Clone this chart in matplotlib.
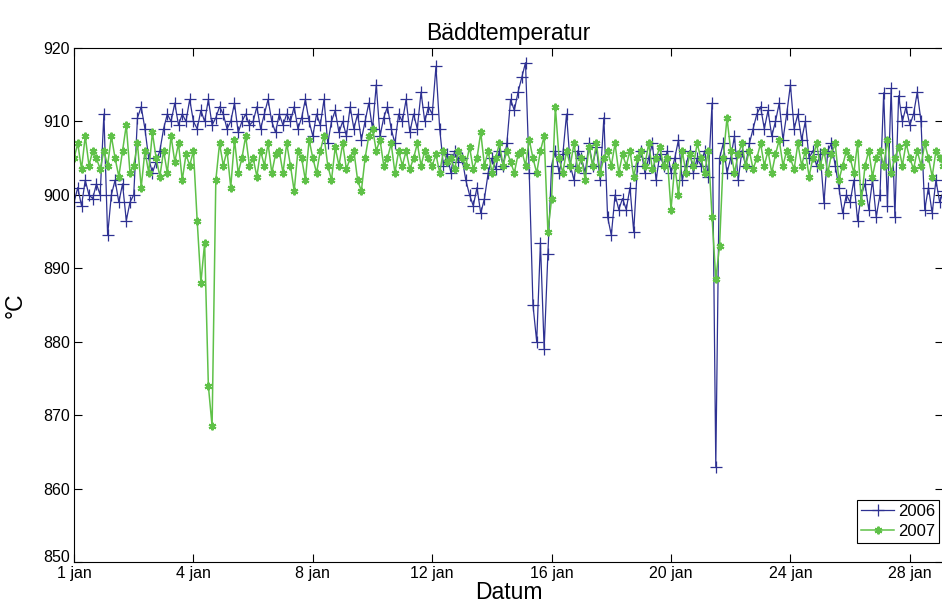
import numpy as np
from matplotlib import pyplot as plt
from matplotlib import transforms

# Bed temperature, January, 8 samples per day (every 3 h)
temp_2006 = [
    899, 901, 898.5, 902, 900, 899.5, 901.5, 900,
    911, 894.5, 900, 902, 899, 901.5, 896.5, 899,
    900, 910.5, 912, 909, 905, 903, 904.5, 906,
    909, 911, 910, 912.5, 909.5, 911, 910, 913,
    910, 909, 911.5, 910, 913, 909.5, 910.5, 912,
    911, 909, 910, 912.5, 908.5, 910, 911, 909.5,
    910, 912, 909, 911, 913, 910, 908.5, 911,
    909.5, 911, 910, 912, 909, 910.5, 913, 910,
    908, 911, 909.5, 913, 907, 910, 911.5, 908.5,
    910, 908, 912, 909, 911, 907.5, 910, 912.5,
    909, 915, 908, 910.5, 912, 909, 907, 911,
    910, 913, 908.5, 911, 909, 914, 910, 912,
    911, 917.5, 909, 904, 905.5, 903, 906, 904.5,
    905, 902, 900, 898.5, 901, 897.5, 899.5, 903,
    905, 903.5, 906, 904, 907, 913, 911.5, 914,
    916, 918, 903, 885, 880, 893.5, 879, 892,
    904, 906, 903, 905.5, 911, 904, 902, 906,
    905, 903, 907, 904, 906.5, 902, 910.5, 897,
    894.5, 900, 898, 899.5, 898, 901, 895, 904,
    906, 903, 905, 907, 902, 905.5, 904, 906,
    903, 905, 907.5, 902, 904, 906, 903, 905,
    904, 906, 902.5, 912.5, 863, 905, 907, 903,
    905, 908, 902, 906, 904, 907, 909, 911,
    912, 909, 911.5, 908, 910, 912.5, 907.5, 911,
    915, 909, 911, 907.5, 910, 905, 906, 904,
    905.5, 898.9, 906, 907, 904, 901, 897.5, 900,
    899, 902, 896.5, 900, 901.5, 898, 902, 897,
    900, 913.9, 898.5, 914.5, 897, 913.5, 910, 912,
    909.5, 911, 914, 910, 898, 901, 897.5, 902,
    899, 900.5,
]

temp_2007 = [
    905, 907, 903.5, 908, 904, 906, 905, 903.5,
    906, 904, 908, 905, 902.5, 906, 909.5, 903,
    904, 907, 901, 906, 903, 908.5, 905, 902.5,
    906, 903, 908, 904.5, 907, 902, 905.5, 904,
    906, 896.5, 888, 893.5, 874, 868.5, 902, 907,
    904, 906, 901, 907.5, 903, 905, 908, 904,
    905, 902.5, 906, 904, 907, 903, 905.5, 906,
    903, 907, 904, 900.5, 906, 905, 902, 907.5,
    905, 903, 906, 908, 904, 902, 906.5, 904,
    907, 903.5, 905, 906, 902, 900.5, 905, 908,
    909, 906, 907.5, 904, 905, 907, 903, 906,
    904, 906, 903.5, 905, 907, 904, 906, 905,
    904, 905.5, 903, 906, 904.5, 905, 903.5, 906,
    905, 904, 906.5, 903.5, 905, 908.5, 904, 906,
    903, 905, 907, 904, 906, 904.5, 903, 905.5,
    906, 904, 907.5, 905, 903, 906, 908, 895,
    899.5, 912, 905, 903, 906, 904, 907, 903.5,
    905, 902, 906.5, 904, 907, 903, 905, 906,
    904, 907, 903, 905.5, 904, 906, 902.5, 905,
    906, 904, 907, 903.5, 905, 906.5, 904, 905,
    898, 904, 900, 906, 903, 905.5, 904, 907,
    905, 903, 906, 897, 888.5, 893, 905, 910.5,
    906, 903, 905.5, 907, 904, 906, 903.5, 905,
    907, 904, 906, 903, 905.5, 907.5, 904, 906,
    905, 903.5, 907, 904, 906, 902.5, 905, 907,
    904, 906, 903, 905.5, 907, 902, 904, 906,
    905, 903, 907, 899, 904, 906, 902.5, 905,
    906, 904, 907.5, 903, 905, 906.5, 904, 907,
    905, 903.5, 906, 904, 907, 905, 902.5, 906,
    905, 904,
]

tick_days = [0, 4, 8, 12, 16, 20, 24, 28]
tick_labels = ['1 jan', '4 jan', '8 jan', '12 jan', '16 jan', '20 jan', '24 jan', '28 jan']


def plotter():
    plt.rcParams['font.family'] = ['Liberation Sans', 'DejaVu Sans']
    fig = plt.figure(figsize=(9.42, 6.08), dpi=100)
    ax = fig.add_axes([0.0786, 0.0757, 0.9224, 0.8453])

    t06 = np.arange(len(temp_2006)) / 8.0
    t07 = np.arange(len(temp_2007)) / 8.0

    ax.plot(t06, temp_2006, label='2006', c='#2e3192', lw=0.9,
            marker='+', ms=8, mew=0.9)
    ax.plot(t07, temp_2007, label='2007', c='#5fc148', lw=1.1,
            marker=(6, 2, 0), ms=5.5, mew=1.5)

    ax.set_xlim(0, 29.11)
    ax.set_ylim(850, 920)
    ax.set_yticks(np.arange(850, 921, 10))
    ax.set_xticks(tick_days)
    ax.set_xticklabels(tick_labels)
    ax.tick_params(direction='in', top=True, right=True, labelsize=11.5,
                   length=6, pad=3)
    # lift the lowest y label a little, as in the original
    lab850 = ax.get_yticklabels()[0]
    lab850.set_transform(lab850.get_transform() +
                         transforms.ScaledTranslation(0, 4 / 72, fig.dpi_scale_trans))

    plt.title('Bäddtemperatur', fontsize=16.5, pad=6)
    plt.xlabel('Datum', fontsize=16.5, labelpad=0)
    plt.ylabel('°C', fontsize=16.5, labelpad=12)

    leg = ax.legend(loc='lower right', bbox_to_anchor=(0.9955, 0.037),
                    fontsize=12, fancybox=False, edgecolor='black',
                    framealpha=1, borderpad=0.25, handlelength=2.0,
                    handletextpad=0.2, borderaxespad=0.0, labelspacing=0.3)
    leg.get_frame().set_linewidth(0.8)

    fig.savefig('out.png', dpi=100)


if __name__ == '__main__':
    plotter()
